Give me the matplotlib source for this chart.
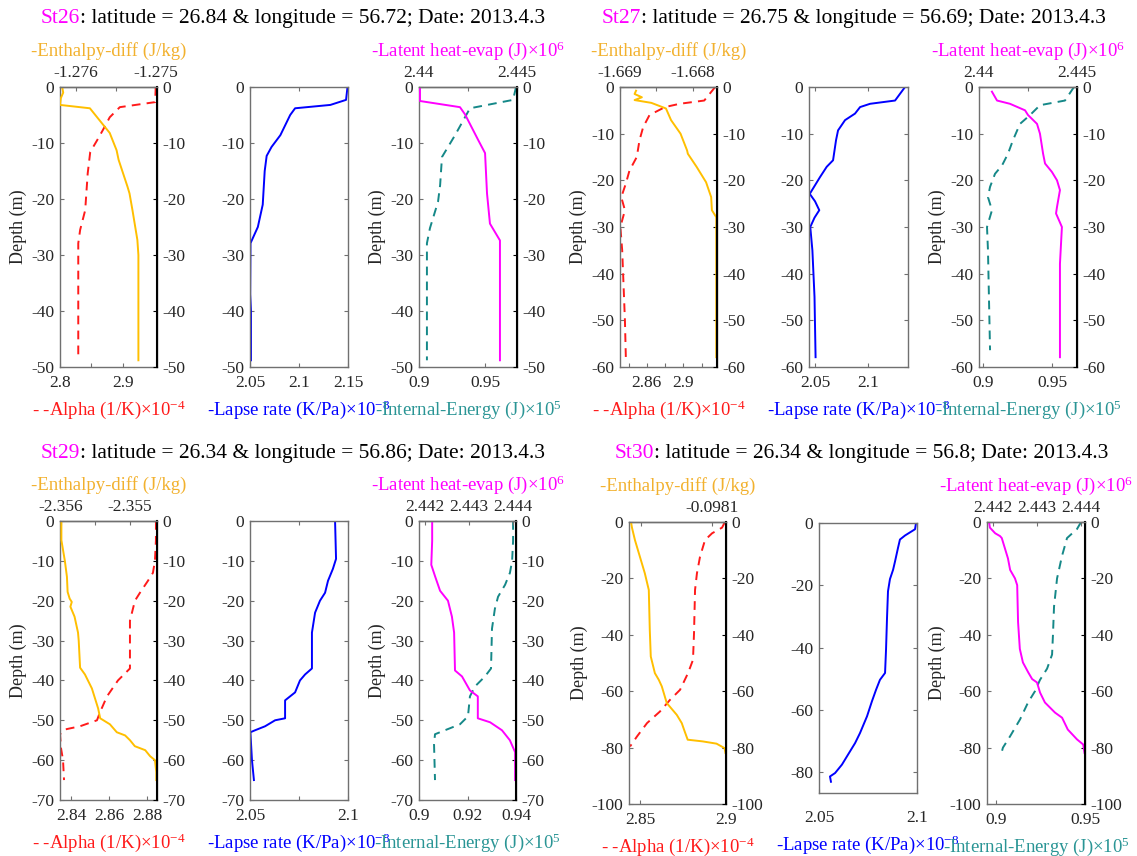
import numpy as np
import matplotlib.pyplot as plt
from matplotlib.text import Annotation

plt.rcParams['font.family'] = ['Liberation Serif', 'DejaVu Serif']
plt.rcParams['mathtext.default'] = 'regular'
plt.rcParams['axes.unicode_minus'] = False

# ---- St26 ----
st26_enth_z = [0, -1, -2, -3.2, -3.8, -8.2, -11.3, -13, -17.8, -19, -22, -27.3, -30, -48.8]
st26_enth = [-1.276173, -1.27616, -1.27619, -1.2762, -1.275827, -1.27558, -1.275494, -1.275469,
             -1.275358, -1.275333, -1.275296, -1.275235, -1.275222, -1.275222]
st26_alpha_z = [0, -2.7, -3.6, -5.4, -7.7, -9.5, -11.6, -15.4, -22, -25.5, -27.9, -48.8]
st26_alpha = [2.952, 2.951, 2.895, 2.879, 2.868, 2.859, 2.848, 2.844, 2.840, 2.832, 2.829, 2.829]
st26_lapse_z = [0, -2.3, -3.2, -3.8, -5, -8.6, -10.7, -12.3, -15, -21, -25, -27.9, -37, -40, -48.8]
st26_lapse = [2.1495, 2.148, 2.132, 2.096, 2.091, 2.081, 2.072, 2.067, 2.065, 2.063, 2.058, 2.0505,
              2.0502, 2.051, 2.051]
st26_latent_z = [0, -2.5, -3.6, -4.9, -9.4, -11.8, -19, -24.4, -27.4, -48.8]
st26_latent = [2.44005, 2.44005, 2.44209, 2.44235, 2.44301, 2.44337, 2.44347, 2.44362, 2.44413, 2.44413]
st26_ie_z = [0, -2.3, -3.8, -8.6, -12.5, -17.5, -20.5, -25.2, -27.9, -48.8]
st26_ie = [0.9735, 0.9712, 0.9386, 0.9273, 0.9174, 0.916, 0.9144, 0.9083, 0.906, 0.906]

# ---- St27 ----
st27_enth_z = [-0.8, -1.5, -2.2, -2.8, -3.4, -4.6, -7.1, -10, -13.6, -14.3, -17.1, -20.4, -23.6,
               -26.4, -27.9, -57.9]
st27_enth = [-1.66878, -1.6688, -1.6687, -1.6688, -1.66857, -1.66837, -1.6683, -1.66817, -1.66808,
             -1.66807, -1.66795, -1.66782, -1.66775, -1.66774, -1.66768, -1.66768]
st27_alpha_z = [0, -2.9, -3.6, -4.3, -6, -8.6, -11.4, -15, -17.9, -20.7, -23.6, -26.4, -30, -35,
                -40, -50, -57.9]
st27_alpha = [2.935, 2.923, 2.896, 2.880, 2.863, 2.856, 2.852, 2.849, 2.841, 2.837, 2.832, 2.836,
              2.831, 2.833, 2.834, 2.836, 2.837]
st27_lapse_z = [0, -2.9, -3.6, -4.3, -5.7, -7.1, -9.3, -11.4, -15.7, -17.1, -19.3, -22.9, -24.5,
                -26.4, -28, -30, -35, -40, -45, -57.9]
st27_lapse = [2.1349, 2.1255, 2.1019, 2.0925, 2.0877, 2.0783, 2.0717, 2.0698, 2.0670, 2.0610,
              2.0547, 2.0450, 2.0500, 2.0540, 2.0495, 2.0455, 2.0475, 2.0485, 2.0495, 2.0505]
st27_latent_z = [-1.0, -2.9, -3.6, -5, -6, -7.9, -10, -14.3, -16.4, -18.2, -20, -22.1, -25.7, -27.1,
                 -30, -37.9, -57.9]
st27_latent = [2.44066, 2.44092, 2.44158, 2.44235, 2.4425, 2.44296, 2.44311, 2.44327, 2.44337,
               2.44372, 2.44398, 2.44413, 2.44398, 2.44393, 2.44423, 2.44413, 2.44413]
st27_ie_z = [0, -2.9, -3.9, -6, -7.9, -11.4, -14.3, -16.8, -18.6, -21.4, -23.6, -26.4, -30, -35, -56.4]
st27_ie = [0.9659, 0.9594, 0.9413, 0.9341, 0.9268, 0.9217, 0.9181, 0.9138, 0.9087, 0.9051, 0.9036,
           0.9065, 0.9029, 0.9036, 0.9051]

# ---- St29 ----
st29_enth_z = [0, -4.8, -10, -14, -17.8, -19.5, -20.3, -21.5, -24, -28, -30, -36.8, -38.5, -42, -47,
               -49.5, -51, -53, -53.8, -55, -56.5, -57.5, -59, -60, -63, -65]
st29_enth = [-2.35599, -2.35599, -2.35594, -2.35591, -2.3559, -2.35587, -2.35584, -2.35586, -2.3558,
             -2.35575, -2.35574, -2.35572, -2.35565, -2.35555, -2.35546, -2.35543, -2.35529,
             -2.35519, -2.35507, -2.355, -2.35493, -2.35478, -2.35471, -2.35464, -2.35462, -2.35462]
st29_alpha_z = [0, -4.8, -10, -13, -15, -18, -20, -25, -37, -40, -44, -48, -50, -51.5, -52.3, -53.5,
                -57, -60, -65]
st29_alpha = [2.88474, 2.88474, 2.88421, 2.88316, 2.88053, 2.87632, 2.87368, 2.87105, 2.87105,
              2.86474, 2.85895, 2.85526, 2.85368, 2.84474, 2.83684, 2.83421, 2.83474, 2.83579, 2.83632]
st29_lapse_z = [0, -9.5, -12, -15, -18, -20, -23, -28, -37, -38.5, -40, -43, -45, -49.5, -50, -51.5,
                -52.5, -53, -60, -65]
st29_lapse = [2.0934, 2.0939, 2.0923, 2.0898, 2.0883, 2.0857, 2.0832, 2.0816, 2.0816, 2.0781, 2.0755,
              2.073, 2.0679, 2.0679, 2.0628, 2.0577, 2.0526, 2.0502, 2.051, 2.052]
st29_latent_z = [0, -5, -11, -14, -17.5, -20, -24, -28, -37.5, -39, -42.5, -44, -49.5, -50.5, -52.5,
                 -55, -58, -65]
st29_latent = [2.44216, 2.44216, 2.44214, 2.44223, 2.44234, 2.44252, 2.44261, 2.44266, 2.44268,
               2.44284, 2.44302, 2.4432, 2.4432, 2.44348, 2.44375, 2.44393, 2.44405, 2.44405]
st29_ie_z = [0, -5, -10, -13, -16, -19, -22, -27, -37, -39, -41.5, -44, -49, -51, -52.5, -53.5, -56, -65]
st29_ie = [0.9388, 0.9388, 0.9384, 0.9375, 0.9355, 0.9326, 0.9313, 0.9301, 0.9297, 0.9272, 0.9231,
           0.921, 0.9202, 0.9169, 0.9107, 0.9066, 0.9062, 0.9066]

# ---- St30 ----
st30_enth_z = [0, -2, -6.4, -12.3, -18.2, -24.1, -38.3, -47.7, -53.6, -56, -58.3, -64.2, -68.4,
               -71.3, -74.3, -77.2, -77.8, -78.6, -80.2, -81.9]
st30_enth = [-0.0981570, -0.0981563, -0.0981542, -0.0981507, -0.0981472, -0.0981444, -0.0981437,
             -0.0981430, -0.0981401, -0.0981373, -0.0981352, -0.0981317, -0.0981246, -0.0981211,
             -0.0981190, -0.0981169, -0.0981063, -0.0980965, -0.0980908, -0.0980902]
st30_alpha_z = [0, -2, -4, -6.4, -12.3, -18.2, -24.1, -39.5, -48.9, -53.6, -59.5, -63.1, -67.2,
                -71.3, -76, -79.6]
st30_alpha = [2.8994, 2.8977, 2.8919, 2.8878, 2.8849, 2.8831, 2.882, 2.8814, 2.8808, 2.8779, 2.8733,
              2.8674, 2.8616, 2.8541, 2.8483, 2.8442]
st30_lapse_z = [0, -2, -4, -5.3, -8, -12.3, -15, -18, -21.9, -30.5, -40.6, -48.1, -50.3, -53.5, -57.2,
                -62, -67.4, -70.6, -74.3, -77.5, -80.2, -81.3, -83]
st30_lapse = [2.0995, 2.099, 2.0939, 2.0913, 2.0903, 2.0888, 2.0878, 2.0862, 2.0852, 2.0847, 2.0842,
              2.0837, 2.0811, 2.0791, 2.077, 2.0745, 2.0709, 2.0684, 2.0648, 2.0617, 2.0582, 2.0556,
              2.0561]
st30_latent_z = [0, -2, -4, -5, -5.7, -9.3, -12.9, -17, -20, -22.4, -35.5, -45, -49.8, -53.3, -55.7,
                 -56.9, -60.5, -64, -67.6, -69.4, -73.6, -77.1, -78.9, -81.9]
st30_latent = [2.44191, 2.44193, 2.44205, 2.44216, 2.4422, 2.44227, 2.44234, 2.44239, 2.4425,
               2.44255, 2.44257, 2.44261, 2.44268, 2.4428, 2.44289, 2.443, 2.44307, 2.44318,
               2.44341, 2.44357, 2.4437, 2.44391, 2.44405, 2.44408]
st30_ie_z = [0, -2.5, -5.7, -12, -20, -30, -40, -47, -52, -56, -60, -64, -70, -76, -80, -82.5]
st30_ie = [0.9478, 0.9455, 0.9399, 0.9371, 0.9343, 0.9326, 0.932, 0.9315, 0.9287, 0.9247, 0.9219,
           0.918, 0.9135, 0.9079, 0.9039, 0.9028]

stations = ['St26', 'St27', 'St29', 'St30']
lats = [26.84, 26.75, 26.34, 26.34]
lons = [56.72, 56.69, 56.86, 56.8]
date = '2013.4.3'

ORANGE = '#FFBF00'
RED = '#FF1A1A'
BLUE = '#0000FF'
MAGENTA = '#FF00FF'
TEAL = '#158888'
BOX = '#707070'
TXT = '#262626'
FS_TICK = 12.5
FS_LAB = 13.5

W, H = 1137, 856
fig = plt.figure(figsize=(W / 100, H / 100), dpi=100)


def rect(x0, x1, y0, y1):
    return [x0 / W, 1 - y1 / H, (x1 - x0) / W, (y1 - y0) / H]


def base_style(ax):
    for s in ax.spines.values():
        s.set_color(BOX)
        s.set_linewidth(1.0)
    ax.tick_params(direction='in', length=3, width=0.8, color=BOX, labelsize=FS_TICK,
                   labelcolor=TXT, pad=4)


def set_y(ax, ylim, yticks):
    ax.set_ylim(ylim)
    ax.set_yticks(yticks)
    ax.set_yticklabels(['%d' % t for t in yticks])


def draw_line(ax, s):
    if s['ls'] == '--':
        ax.plot(s['v'], s['z'], color=s['color'], lw=1.4, ls='--', dashes=(4.5, 3.2))
    else:
        ax.plot(s['v'], s['z'], color=s['color'], lw=1.4)


def twin_panel(box, ylim, yticks, lo, up):
    ax = fig.add_axes(rect(*box))
    base_style(ax)
    draw_line(ax, lo)
    ax.set_xlim(lo['lim'])
    ax.set_xticks(lo['ticks'])
    ax.set_xticklabels(lo['labels'])
    set_y(ax, ylim, yticks)
    ax.tick_params(top=False, right=False)
    ax.tick_params(axis='x', pad=6)
    ax.set_ylabel('Depth (m)', fontsize=FS_LAB - 0.5, color=TXT, labelpad=3)
    ax.set_xlabel(lo['text'], fontsize=FS_LAB, color=lo['tcolor'], labelpad=5)

    ax2 = fig.add_axes(rect(*box), facecolor='none')
    base_style(ax2)
    draw_line(ax2, up)
    ax2.set_xlim(up['lim'])
    ax2.xaxis.tick_top()
    ax2.xaxis.set_label_position('top')
    ax2.yaxis.tick_right()
    ax2.set_xticks(up['ticks'])
    ax2.set_xticklabels(up['labels'])
    set_y(ax2, ylim, yticks)
    ax2.spines['left'].set_visible(False)
    ax2.spines['bottom'].set_visible(False)
    ax2.spines['right'].set_color('black')
    ax2.spines['right'].set_linewidth(1.5)
    ax2.tick_params(axis='y', color='black')
    ax2.set_xlabel(up['text'], fontsize=FS_LAB, color=up['tcolor'], labelpad=7)
    return ax, ax2


def single_panel(box, ylim, yticks, z, v, lim, ticks, labels, text, xpad):
    ax = fig.add_axes(rect(*box))
    base_style(ax)
    ax.plot(v, z, color=BLUE, lw=1.4)
    ax.set_xlim(lim)
    ax.set_xticks(ticks)
    ax.set_xticklabels(labels)
    set_y(ax, ylim, yticks)
    ax.tick_params(top=True, right=True)
    ax.tick_params(axis='x', pad=xpad)
    ax.set_xlabel(text, fontsize=FS_LAB, color=BLUE, labelpad=5)
    return ax


def title(x, y, name, lat, lon):
    t = fig.text(x / W, 1 - y / H, name, color=MAGENTA, fontsize=15.5, va='bottom', ha='left')
    rest = ': latitude = %g & longitude = %g; Date: %s' % (lat, lon, date)
    fig.add_artist(Annotation(rest, xy=(1, 0), xycoords=t, va='bottom', ha='left',
                              fontsize=15.5, color='black'))


alpha_txt = '- -Alpha (1/K)×10$^{-4}$'
enth_txt = '-Enthalpy-diff (J/kg)'
lapse_txt = '-Lapse rate (K/Pa)×10$^{-8}$'
ie_txt = '-Internal-Energy (J)×10$^{5}$'
lat_txt = '-Latent heat-evap (J)×10$^{6}$'

# panel boxes in pixels: (x0, x1, y0, y1)
layout = {
    'St26': dict(p1=(60, 157, 87, 367), p2=(250, 348, 87, 367), p3=(419, 517, 87, 367),
                 title=(41, 28), xpad=6),
    'St27': dict(p1=(620, 717, 87, 367), p2=(809, 908, 87, 367), p3=(979, 1077, 87, 367),
                 title=(602, 28), xpad=6),
    'St29': dict(p1=(60, 157, 521, 800), p2=(250, 348, 521, 800), p3=(419, 516, 521, 800),
                 title=(41, 463), xpad=6),
    'St30': dict(p1=(629, 726, 522, 804), p2=(819, 917, 523, 793), p3=(987, 1085, 522, 804),
                 title=(615, 463), xpad=12.5),
}

data = {
    'St26': dict(enth=(st26_enth_z, st26_enth), alpha=(st26_alpha_z, st26_alpha),
                 lapse=(st26_lapse_z, st26_lapse), latent=(st26_latent_z, st26_latent),
                 ie=(st26_ie_z, st26_ie)),
    'St27': dict(enth=(st27_enth_z, st27_enth), alpha=(st27_alpha_z, st27_alpha),
                 lapse=(st27_lapse_z, st27_lapse), latent=(st27_latent_z, st27_latent),
                 ie=(st27_ie_z, st27_ie)),
    'St29': dict(enth=(st29_enth_z, st29_enth), alpha=(st29_alpha_z, st29_alpha),
                 lapse=(st29_lapse_z, st29_lapse), latent=(st29_latent_z, st29_latent),
                 ie=(st29_ie_z, st29_ie)),
    'St30': dict(enth=(st30_enth_z, st30_enth), alpha=(st30_alpha_z, st30_alpha),
                 lapse=(st30_lapse_z, st30_lapse), latent=(st30_latent_z, st30_latent),
                 ie=(st30_ie_z, st30_ie)),
}

# axis scales for each station
scales = {
    'St26': dict(ylim=(-50, 0), yt=list(range(-50, 1, 10)), ylim2=(-50, 0), yt2=list(range(-50, 1, 10)),
                 alpha=((2.8, 2.954), [2.8, 2.85, 2.9], ['2.8', '', '2.9']),
                 enth=((-1.2762, -1.27499), [-1.276, -1.2755, -1.275], ['-1.276', '', '-1.275']),
                 lapse=((2.05, 2.15), [2.05, 2.1, 2.15], ['2.05', '2.1', '2.15']),
                 ie=((0.9, 0.9742), [0.9, 0.95], ['0.9', '0.95']),
                 latent=((2.44, 2.445), [2.44, 2.4425, 2.445], ['2.44', '', '2.445'])),
    'St27': dict(ylim=(-60, 0), yt=list(range(-60, 1, 10)), ylim2=(-60, 0), yt2=list(range(-60, 1, 10)),
                 alpha=((2.8306, 2.937), [2.84, 2.86, 2.88, 2.9, 2.92], ['', '2.86', '', '2.9', '']),
                 enth=((-1.66896, -1.66767), [-1.669, -1.6685, -1.668], ['-1.669', '', '-1.668']),
                 lapse=((2.0443, 2.1377), [2.05, 2.1], ['2.05', '2.1']),
                 ie=((0.8971, 0.9681), [0.9, 0.95], ['0.9', '0.95']),
                 latent=((2.44, 2.445), [2.44, 2.4425, 2.445], ['2.44', '', '2.445'])),
    'St29': dict(ylim=(-70, 0), yt=list(range(-70, 1, 10)), ylim2=(-70, 0), yt2=list(range(-70, 1, 10)),
                 alpha=((2.8342, 2.8853), [2.84, 2.86, 2.88], ['2.84', '2.86', '2.88']),
                 enth=((-2.35601, -2.35461), [-2.356, -2.3555, -2.355], ['-2.356', '', '-2.355']),
                 lapse=((2.05, 2.1), [2.05, 2.075, 2.1], ['2.05', '', '2.1']),
                 ie=((0.9, 0.94), [0.9, 0.92, 0.94], ['0.9', '0.92', '0.94']),
                 latent=((2.44186, 2.44407), [2.442, 2.443, 2.444], ['2.442', '2.443', '2.444'])),
    'St30': dict(ylim=(-100, 0), yt=list(range(-100, 1, 20)), ylim2=(-86.6, 0), yt2=list(range(-80, 1, 20)),
                 alpha=((2.8436, 2.9), [2.85, 2.9], ['2.85', '2.9']),
                 enth=((-0.0981584, -0.0980898), [-0.09815, -0.0981], ['', '-0.0981']),
                 lapse=((2.05, 2.1), [2.05, 2.1], ['2.05', '2.1']),
                 ie=((0.89494, 0.95), [0.9, 0.95], ['0.9', '0.95']),
                 latent=((2.441864, 2.444091), [2.442, 2.443, 2.444], ['2.442', '2.443', '2.444'])),
}

for name, lat, lon in zip(stations, lats, lons):
    lay, d, sc = layout[name], data[name], scales[name]
    title(lay['title'][0], lay['title'][1], name, lat, lon)

    lo = dict(z=d['alpha'][0], v=d['alpha'][1], lim=sc['alpha'][0], ticks=sc['alpha'][1],
              labels=sc['alpha'][2], color=RED, ls='--', text=alpha_txt, tcolor=RED)
    up = dict(z=d['enth'][0], v=d['enth'][1], lim=sc['enth'][0], ticks=sc['enth'][1],
              labels=sc['enth'][2], color=ORANGE, ls='-', text=enth_txt, tcolor='#F2B12E')
    twin_panel(lay['p1'], sc['ylim'], sc['yt'], lo, up)

    single_panel(lay['p2'], sc['ylim2'], sc['yt2'], d['lapse'][0], d['lapse'][1],
                 sc['lapse'][0], sc['lapse'][1], sc['lapse'][2], lapse_txt, lay['xpad'])

    lo = dict(z=d['ie'][0], v=d['ie'][1], lim=sc['ie'][0], ticks=sc['ie'][1],
              labels=sc['ie'][2], color=TEAL, ls='--', text=ie_txt, tcolor='#2A9595')
    up = dict(z=d['latent'][0], v=d['latent'][1], lim=sc['latent'][0], ticks=sc['latent'][1],
              labels=sc['latent'][2], color=MAGENTA, ls='-', text=lat_txt, tcolor=MAGENTA)
    twin_panel(lay['p3'], sc['ylim'], sc['yt'], lo, up)

fig.savefig('out.png', dpi=100)
